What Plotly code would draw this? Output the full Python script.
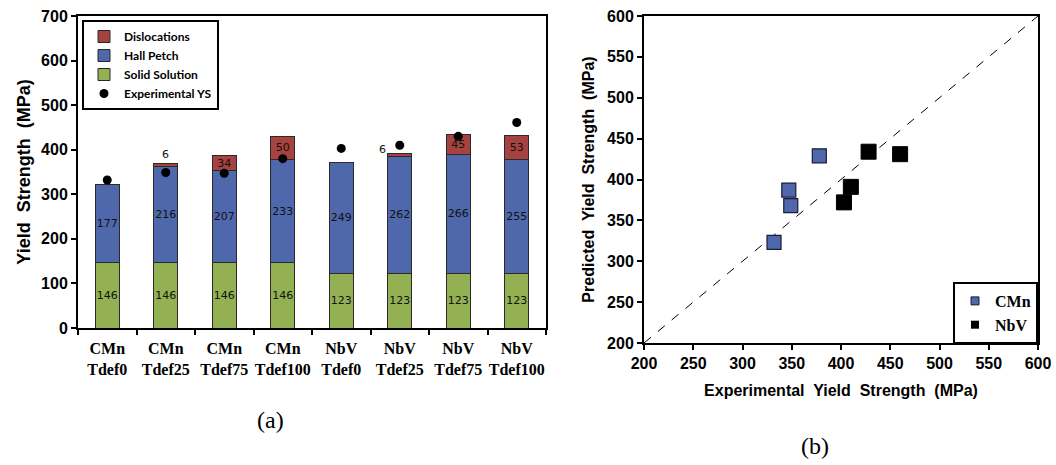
import plotly.graph_objects as go

categories = ["CMn<br>Tdef0", "CMn<br>Tdef25", "CMn<br>Tdef75", "CMn<br>Tdef100",
              "NbV<br>Tdef0", "NbV<br>Tdef25", "NbV<br>Tdef75", "NbV<br>Tdef100"]
solid_solution = [146, 146, 146, 146, 123, 123, 123, 123]
hall_petch = [177, 216, 207, 233, 249, 262, 266, 255]
dislocations = [0, 6, 34, 50, 0, 6, 45, 53]
experimental_ys = [332, 349, 347, 380, 403, 410, 430, 461]

cmn_exp = [332, 349, 347, 378]
cmn_pred = [323, 368, 387, 429]
nbv_exp = [403, 410, 428, 460]
nbv_pred = [372, 391, 434, 431]
line_xy = [200, 600]

C_DIS = "#A6423F"
C_HP = "#4F68AC"
C_SS = "#93B152"
EDGE = "#2a2a2a"

fig = go.Figure()

bar_font = dict(family="DejaVu Sans", size=11, color="#111111")
bar_common = dict(x=categories, width=0.41, textposition="inside", insidetextanchor="middle",
                  textangle=0, constraintext="none", textfont=bar_font,
                  xaxis="x", yaxis="y", legend="legend")

fig.add_trace(go.Bar(name="Solid Solution", y=solid_solution,
                     text=[str(v) for v in solid_solution],
                     marker=dict(color=C_SS, line=dict(color=EDGE, width=1)),
                     legendrank=3, **bar_common))
fig.add_trace(go.Bar(name="Hall Petch", y=hall_petch,
                     text=[str(v) for v in hall_petch],
                     marker=dict(color=C_HP, line=dict(color=EDGE, width=1)),
                     legendrank=2, **bar_common))
fig.add_trace(go.Bar(name="Dislocations", y=dislocations,
                     text=[str(v) if v > 10 else "" for v in dislocations],
                     marker=dict(color=C_DIS, line=dict(color=EDGE, width=1)),
                     legendrank=1, **bar_common))
fig.add_trace(go.Scatter(name="Experimental YS", x=categories, y=experimental_ys,
                         mode="markers", marker=dict(color="black", size=9, symbol="circle"),
                         xaxis="x", yaxis="y", legend="legend", legendrank=4))

# small dislocation labels placed outside
totals = [s + h + d for s, h, d in zip(solid_solution, hall_petch, dislocations)]
for i, d in enumerate(dislocations):
    if 0 < d <= 10:
        if i < 4:
            fig.add_annotation(x=categories[i], y=totals[i], text=str(d), showarrow=False,
                               yanchor="bottom", yshift=1, xref="x", yref="y", font=bar_font)
        else:
            fig.add_annotation(x=categories[i], y=totals[i], text=str(d), showarrow=False,
                               xanchor="right", xshift=-12, yanchor="middle", yshift=4,
                               xref="x", yref="y", font=bar_font)

# right chart
fig.add_trace(go.Scatter(x=line_xy, y=line_xy, mode="lines",
                         line=dict(color="black", width=1, dash="dash"),
                         showlegend=False, xaxis="x2", yaxis="y2"))
fig.add_trace(go.Scatter(x=cmn_exp, y=cmn_pred, mode="markers", showlegend=False,
                         marker=dict(symbol="square", size=14, color=C_HP,
                                     line=dict(color="#1a1a3a", width=1.2)),
                         xaxis="x2", yaxis="y2"))
fig.add_trace(go.Scatter(x=nbv_exp, y=nbv_pred, mode="markers", showlegend=False,
                         marker=dict(symbol="square", size=15, color="black",
                                     line=dict(color="black", width=1)),
                         xaxis="x2", yaxis="y2"))
fig.add_trace(go.Scatter(name="CMn", x=[None], y=[None], mode="markers",
                         marker=dict(symbol="square", size=8, color=C_HP,
                                     line=dict(color="#1a1a3a", width=1)),
                         xaxis="x2", yaxis="y2", legend="legend2"))
fig.add_trace(go.Scatter(name="NbV", x=[None], y=[None], mode="markers",
                         marker=dict(symbol="square", size=8, color="black"),
                         xaxis="x2", yaxis="y2", legend="legend2"))

# body margin is removed by post_script, so the figure fills the window
OFF = 0
W, H = 1056, 465
def px_x(p): return (p - OFF) / W
def px_y(p): return 1 - (p - OFF) / H

def bfont(family, size):
    return dict(family=family, size=size, color="black", weight="bold")

axline = dict(showline=True, linecolor="black", linewidth=2, mirror=True,
              ticks="outside", ticklen=5, tickwidth=2, tickcolor="black",
              showgrid=False, zeroline=False, automargin=False,
              ticklabeloverflow="allow")

fig.update_layout(
    width=W, height=H,
    margin=dict(l=0, r=0, t=0, b=0),
    paper_bgcolor="white", plot_bgcolor="white",
    barmode="stack",
    showlegend=True,
    xaxis=dict(domain=[px_x(78), px_x(546)], anchor="y", tickson="boundaries",
               tickangle=0, ticklabelstandoff=5,
               tickfont=bfont("Liberation Serif", 16),
               **axline),
    yaxis=dict(domain=[px_y(328), px_y(16)], anchor="x", range=[0, 700], dtick=100,
               tickfont=bfont("Liberation Sans", 16),
               title=dict(text="Yield  Strength  (MPa)",
                          font=bfont("Liberation Sans", 18),
                          standoff=6),
               **axline),
    xaxis2=dict(domain=[px_x(644), px_x(1038)], anchor="y2", range=[200, 600], dtick=50,
                tickfont=bfont("Liberation Sans", 16),
                title=dict(text="Experimental  Yield  Strength  (MPa)",
                           font=bfont("Liberation Sans", 16),
                           standoff=14),
                **axline),
    yaxis2=dict(domain=[px_y(343), px_y(16)], anchor="x2", range=[200, 600], dtick=50,
                tickfont=bfont("Liberation Sans", 16),
                title=dict(text="Predicted  Yield  Strength  (MPa)",
                           font=bfont("Liberation Sans", 16),
                           standoff=8),
                **axline),
    legend=dict(x=px_x(82), y=px_y(20), xanchor="left", yanchor="top",
                bordercolor="black", borderwidth=2, bgcolor="white",
                traceorder="normal", tracegroupgap=0,
                font=bfont("Lato", 12),
                itemwidth=30),
    legend2=dict(x=px_x(953), y=px_y(282), xanchor="left", yanchor="top",
                 bordercolor="black", borderwidth=2, bgcolor="white",
                 font=bfont("Liberation Serif", 16),
                 itemwidth=30),
)

fig.add_annotation(text="(a)", x=px_x(270), y=px_y(420), xref="paper", yref="paper",
                   xanchor="center", yanchor="middle", showarrow=False,
                   font=dict(family="Liberation Serif", size=24, color="black"))
fig.add_annotation(text="(b)", x=px_x(815), y=px_y(446), xref="paper", yref="paper",
                   xanchor="center", yanchor="middle", showarrow=False,
                   font=dict(family="Liberation Serif", size=24, color="black"))

fig.write_html("out.html", config={"displayModeBar": False},
               post_script="document.body.style.margin='0';document.body.style.overflow='hidden';")
